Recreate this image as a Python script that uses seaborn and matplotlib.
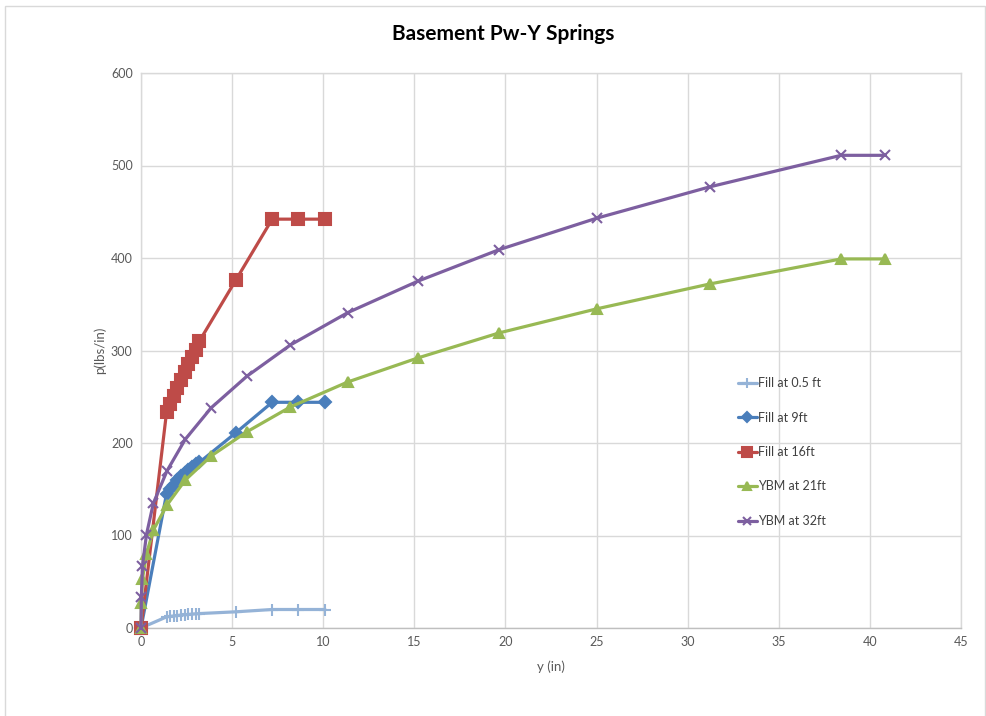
import matplotlib
matplotlib.use("Agg")
import matplotlib.pyplot as plt
from matplotlib.patches import Rectangle
import seaborn as sns
import pandas as pd

# Displacement (in) and soil resistance (lbs/in) for each spring
fill_y = [0, 1.4, 1.6, 1.8, 2.0, 2.2, 2.4, 2.6, 2.8, 3.0, 3.2, 5.2, 7.2, 8.6, 10.1]
fill_05_p = [0, 12, 12.5, 13, 13.5, 14, 14.3, 14.6, 15, 15.3, 15.6, 17.5, 20, 20, 20]
fill_9_p = [0, 145, 150, 155, 160, 164, 168, 171, 174, 177, 179, 211, 244, 244, 244]
fill_16_p = [0, 233, 242, 251, 260, 268, 277, 285, 293, 301, 310, 376, 442, 442, 442]

ybm_y = [0, 0.02, 0.08, 0.3, 0.68, 1.43, 2.43, 3.85, 5.8, 8.2, 11.35, 15.2, 19.65,
         25.0, 31.23, 38.42, 40.83]
ybm_21_p = [0, 26.5, 53, 80, 106, 133, 160, 186, 212, 239, 266, 292, 319, 345,
            372, 399, 399]
ybm_32_p = [0, 33, 67, 101, 135, 170, 204, 238, 272, 306, 341, 375, 409, 443,
            477, 511, 511]

series_names = ["Fill at 0.5 ft", "Fill at 9ft", "Fill at 16ft", "YBM at 21ft", "YBM at 32ft"]
series_x = [fill_y, fill_y, fill_y, ybm_y, ybm_y]
series_p = [fill_05_p, fill_9_p, fill_16_p, ybm_21_p, ybm_32_p]

colors = ["#95B3D7", "#4A7EBB", "#BE4B48", "#98B954", "#7D5FA0"]
markers = ["+", "D", "s", "^", "x"]
msizes = [9, 6, 8.5, 7.5, 7.5]

x_ticks = [0, 5, 10, 15, 20, 25, 30, 35, 40, 45]
y_ticks = [0, 100, 200, 300, 400, 500, 600]

sns.set_theme(style="white")
plt.rcParams["font.family"] = ["Lato", "DejaVu Sans"]

fig = plt.figure(figsize=(9.86, 7.16), dpi=100)
ax = fig.add_axes([141 / 986, 1 - 628 / 716, 820 / 986, 555 / 716])

for name, xs, ps, c, m, ms in zip(series_names, series_x, series_p, colors, markers, msizes):
    df = pd.DataFrame({"y": xs, "p": ps})
    sns.lineplot(data=df, x="y", y="p", ax=ax, color=c, linewidth=2.3,
                 marker=m, markersize=ms, markeredgecolor=c, markerfacecolor=c,
                 markeredgewidth=1.5, estimator=None, sort=False, label=name,
                 clip_on=False, zorder=3)

ax.set_xlim(0, 45)
ax.set_ylim(0, 600)
ax.set_xticks(x_ticks)
ax.set_yticks(y_ticks)
ax.grid(True, color="#D9D9D9", linewidth=1)
ax.set_axisbelow(True)
for side, sp in ax.spines.items():
    sp.set_color("#D9D9D9")
    sp.set_linewidth(1)
ax.spines["bottom"].set_color("#BFBFBF")
ax.tick_params(length=0, labelsize=9, labelcolor="#595959", pad=6)

ax.set_xlabel("")
ax.set_ylabel("")
fig.text(551 / 986, 1 - 667 / 716, "y (in)", ha="center", va="center",
         fontsize=9.5, color="#595959")
fig.text(100 / 986, 1 - 350 / 716, "p(lbs/in)", ha="center", va="center",
         rotation=90, fontsize=9.5, color="#595959")
fig.text(503 / 986, 1 - 34 / 716, "Basement Pw-Y Springs", ha="center", va="center",
         fontsize=15, fontweight="bold", color="#000000")

leg = ax.legend(loc="upper left", bbox_to_anchor=(738 / 986, 1 - 377 / 716),
                bbox_transform=fig.transFigure, frameon=False, fontsize=9,
                labelspacing=1.8, handlelength=1.5, handletextpad=0.1,
                borderpad=0, borderaxespad=0, markerscale=0.8)
for t in leg.get_texts():
    t.set_color("#404040")

fig.patches.append(Rectangle((5 / 986, -0.01), 980 / 986, 1 - 6 / 716 + 0.01,
                             transform=fig.transFigure, fill=False,
                             edgecolor="#D9D9D9", linewidth=1))

fig.savefig("out.png", dpi=100, facecolor="white")
